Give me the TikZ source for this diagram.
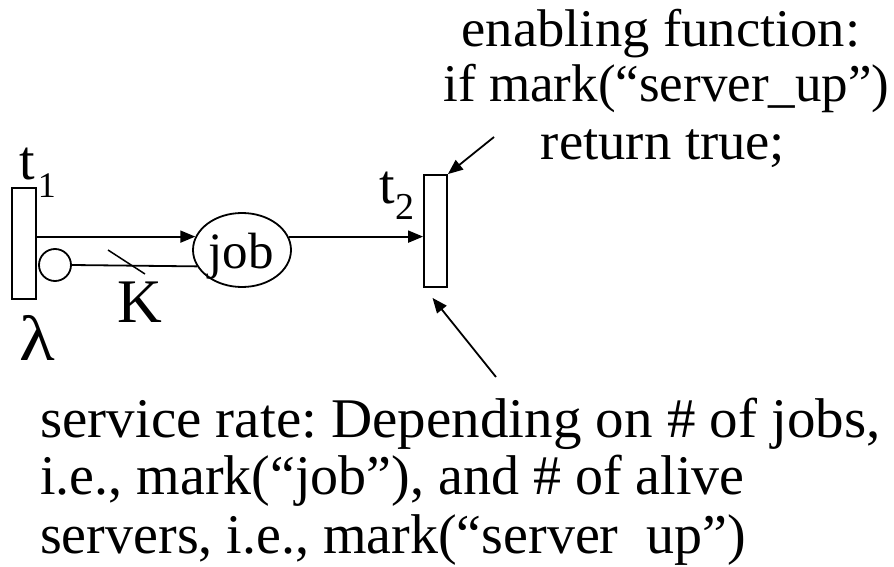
\documentclass[tikz,border=0pt]{standalone}
\usepackage{fontspec}
\setmainfont{Liberation Serif}
\usetikzlibrary{arrows.meta,shapes.geometric}
\newcommand\fsz[1]{\fontsize{#1}{#1}\selectfont}
\frenchspacing
\begin{document}
\begin{tikzpicture}[x=1pt,y=-1pt,
  trans/.style={draw,line width=1.8pt,rectangle,inner sep=0pt,minimum width=24pt,minimum height=111pt},
  place/.style={draw,line width=1.8pt,ellipse,inner sep=0pt,minimum width=98pt,minimum height=74pt},
  inhib/.style={draw,line width=1.8pt,circle,inner sep=0pt,minimum size=32pt},
  arc/.style={line width=1.8pt,-{Triangle[length=15pt,width=12pt]}},
  plain/.style={line width=1.8pt},
  txt/.style={inner sep=0pt,anchor=base},
  ltxt/.style={inner sep=0pt,anchor=base west}]
\useasboundingbox (0,0) rectangle (894,567);
% transitions
\node[trans] (t1) at (24,243.5) {};
\node[trans,minimum width=23pt,minimum height=112pt] (t2) at (435.5,231) {};
% place
\node[place] (job) at (242,250) {};
\node[txt] (jobtxt) at (241,268) {\fsz{51}job};
% inhibitor
\node[inhib] (inh) at (55,265) {};
% arcs
\draw[arc] (t1.east |- job.164) -- (job.164);
\draw[arc] (job.16) -- (t2.west |- job.16);
\draw[plain] (inh.east) -- (job.200);
\coordinate (ka) at (108,250);
\coordinate (kb) at (145,274);
\draw[line width=1.5pt] (ka) -- (kb);
% labels
\node[inner sep=0pt,anchor=base west] (t1lab) at (19,179) {\fsz{56}t\hspace{3pt}\raisebox{-18pt}{\fsz{36}1}};
\node[txt] (t2lab) at (397,203) {\fsz{56}t\raisebox{-16pt}{\fsz{38}2}};
\node[txt] (klab) at (140,322) {\fsz{62}K};
\node[txt] (lam) at (37.5,360) {\fsz{64}\scalebox{1.15}[1]{λ}};
% enabling text
\node[txt] (e1) at (661,47) {\fsz{53}\scalebox{1.03}[1]{enabling function:}};
\node[txt] (e2) at (666.5,102) {\fsz{53}if mark(“server\_up”)};
\node[txt] (e3) at (663,160) {\fsz{53}\scalebox{1.03}[1]{return true;}};
\coordinate (ea) at (494,137);
\draw[arc] (ea) -- (t2.north east);
% service text
\node[ltxt] (s1) at (40,437) {\fsz{56}\scalebox{1.018}[1]{service rate: Depending on \# of jobs,}};
\node[ltxt] (s2) at (40,494) {\fsz{56}i.e., mark(“job”), and \# of alive};
\node[ltxt] (s3) at (40,553) {\fsz{56}servers, i.e., mark(“server\phantom{\_}up”)};
\coordinate (sa) at (496,377);
\draw[arc] (sa) -- ([xshift=-3pt,yshift=-10pt]t2.south);
\end{tikzpicture}
\end{document}
